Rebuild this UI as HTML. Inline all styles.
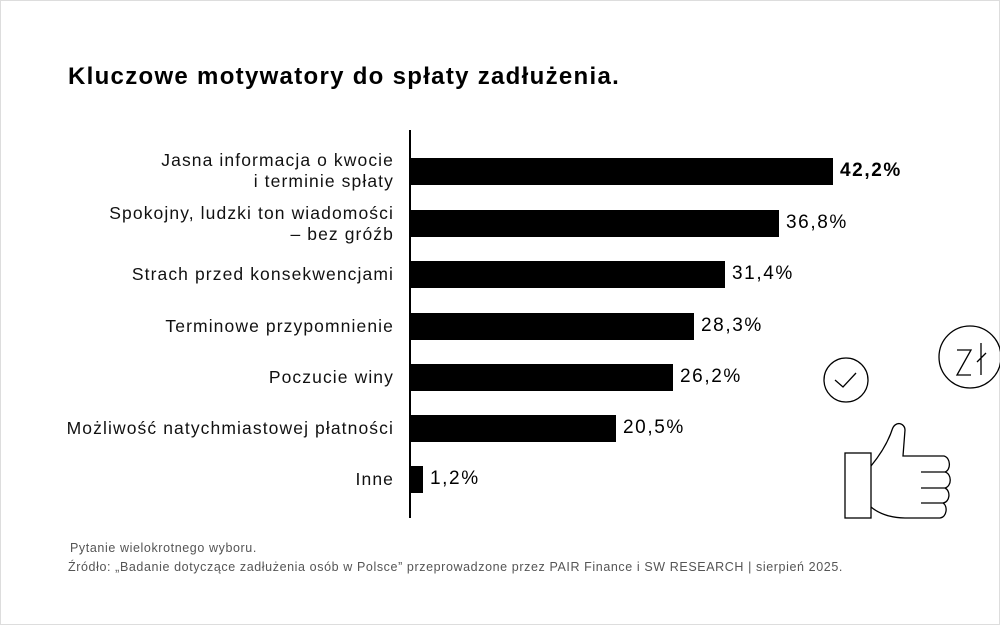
<!DOCTYPE html>
<html><head><meta charset="utf-8"><style>
html,body{margin:0;padding:0;background:#fff}
body{width:1000px;height:625px;position:relative;overflow:hidden;font-family:"Liberation Sans",sans-serif;color:#000}
.t{position:absolute;left:68px;top:63px;font-size:24px;font-weight:bold;letter-spacing:1.3px}
.l{position:absolute;right:606px;text-align:right;font-size:17.5px;line-height:21px;color:#111;letter-spacing:1.1px;white-space:nowrap}
.b{position:absolute;left:411px;height:27px;background:#000}
.v{position:absolute;font-size:19px;color:#000;letter-spacing:1.6px}
.f{position:absolute;left:68px;font-size:12.5px;color:#555;letter-spacing:0.6px;white-space:nowrap}
</style></head><body>
<div style="position:absolute;left:0;top:0;width:998px;height:623px;border:1px solid #ddd"></div>
<div class="t">Kluczowe motywatory do spłaty zadłużenia.</div>
<div style="position:absolute;left:409px;top:130px;width:2px;height:388px;background:#000"></div>

<div class="l" style="top:150px">Jasna informacja o kwocie<br>i terminie spłaty</div>
<div class="b" style="top:158px;width:422px"></div>
<div class="v" style="left:840px;top:160px;font-weight:bold">42,2%</div>

<div class="l" style="top:203px">Spokojny, ludzki ton wiadomości<br>– bez gróźb</div>
<div class="b" style="top:210px;width:368px"></div>
<div class="v" style="left:786px;top:212px">36,8%</div>

<div class="l" style="top:264px">Strach przed konsekwencjami</div>
<div class="b" style="top:261px;width:314px"></div>
<div class="v" style="left:732px;top:263px">31,4%</div>

<div class="l" style="top:316px">Terminowe przypomnienie</div>
<div class="b" style="top:313px;width:283px"></div>
<div class="v" style="left:701px;top:315px">28,3%</div>

<div class="l" style="top:367px">Poczucie winy</div>
<div class="b" style="top:364px;width:262px"></div>
<div class="v" style="left:680px;top:366px">26,2%</div>

<div class="l" style="top:418px">Możliwość natychmiastowej płatności</div>
<div class="b" style="top:415px;width:205px"></div>
<div class="v" style="left:623px;top:417px">20,5%</div>

<div class="l" style="top:469px">Inne</div>
<div class="b" style="top:466px;width:12px"></div>
<div class="v" style="left:430px;top:468px">1,2%</div>

<div class="f" style="top:541px;left:70px">Pytanie wielokrotnego wyboru.</div>
<div class="f" style="top:560px">Źródło: „Badanie dotyczące zadłużenia osób w Polsce” przeprowadzone przez PAIR Finance i SW RESEARCH | sierpień 2025.</div>

<svg style="position:absolute;left:0;top:0" width="1000" height="625" fill="none" stroke="#000" stroke-width="1.3">
<circle cx="846" cy="380" r="22"/>
<path d="M835 380 L843 387 L856 373"/>
<circle cx="970" cy="357" r="31"/>
<path d="M957 350 H971 L957 375 H971 M981 343 V375 M977 362 L986 353"/>
<rect x="845" y="453" width="26" height="65"/>
<path d="M871 466 C880 455 888 442 892 430 C895 420 905 423 905 430 L903 456 L944 456 C951 458 951 470 945 472 L921 472 M945 472 C952 474 952 486 945 488 L921 488 M945 488 C951 491 950 502 943 503 L921 503 M943 503 C948 506 947 517 940 518 L905 518 C890 518 878 513 871 507"/>
</svg>
</body></html>
